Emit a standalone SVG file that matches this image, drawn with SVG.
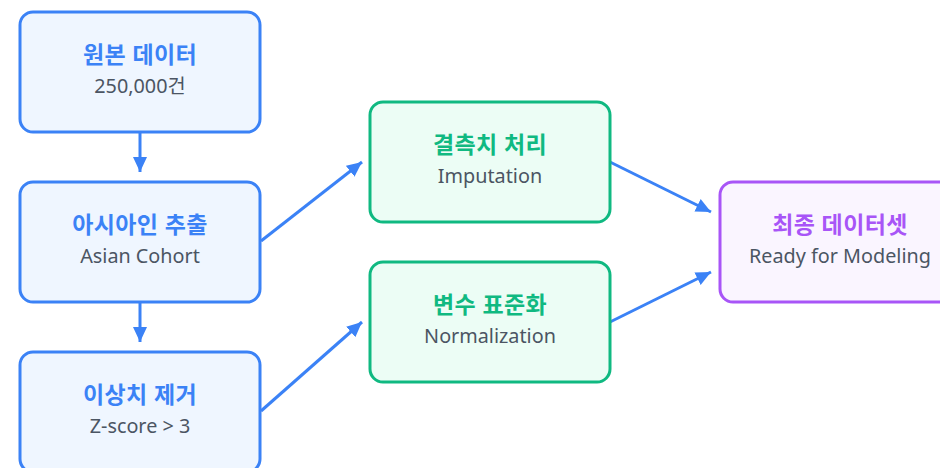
<svg xmlns="http://www.w3.org/2000/svg" width="940" height="468" viewBox="0 0 940 468">
<defs>
<style>
.box{stroke-width:3}
.blue{fill:#eff6ff;stroke:#3b82f6}
.green{fill:#ecfdf5;stroke:#10b981}
.purple{fill:#faf5ff;stroke:#a855f7}
.t{font-family:"Noto Sans","Noto Sans CJK KR",sans-serif;font-size:23px;font-weight:700;text-anchor:middle;letter-spacing:0.4px}
.s{font-family:"Noto Sans","Noto Sans CJK KR",sans-serif;font-size:19.8px;fill:#4b5563;text-anchor:middle}
.tb{fill:#3b82f6}.tg{fill:#10b981}.tp{fill:#a855f7}
.c{stroke:#3b82f6;stroke-width:3;fill:none}
</style>
<marker id="ah" markerUnits="userSpaceOnUse" markerWidth="16" markerHeight="14" refX="15" refY="7" orient="auto">
<path d="M0,0 L15,7 L0,14 z" fill="#3b82f6"/>
</marker>
</defs>
<rect width="940" height="468" fill="#ffffff"/>
<g id="connectors">
<line class="c" x1="140" y1="132" x2="140" y2="172" marker-end="url(#ah)"/>
<line class="c" x1="140" y1="302" x2="140" y2="342" marker-end="url(#ah)"/>
<line class="c" x1="261" y1="241" x2="362" y2="162" marker-end="url(#ah)"/>
<line class="c" x1="261" y1="411" x2="362" y2="322" marker-end="url(#ah)"/>
<line class="c" x1="610" y1="162" x2="711" y2="212" marker-end="url(#ah)"/>
<line class="c" x1="610" y1="322" x2="711" y2="272" marker-end="url(#ah)"/>
</g>
<g id="node-raw">
<rect class="box blue" x="20" y="12" width="240" height="120" rx="13"/>
<text class="t tb" x="140" y="63">원본 데이터</text>
<text class="s" x="140" y="93">250,000건</text>
</g>
<g id="node-asian">
<rect class="box blue" x="20" y="182" width="240" height="120" rx="13"/>
<text class="t tb" x="140" y="233">아시아인 추출</text>
<text class="s" x="140" y="263">Asian Cohort</text>
</g>
<g id="node-outlier">
<rect class="box blue" x="20" y="352" width="240" height="120" rx="13"/>
<text class="t tb" x="140" y="403">이상치 제거</text>
<text class="s" x="140" y="433">Z-score &gt; 3</text>
</g>
<g id="node-impute">
<rect class="box green" x="370" y="102" width="240" height="120" rx="13"/>
<text class="t tg" x="490" y="153">결측치 처리</text>
<text class="s" x="490" y="183">Imputation</text>
</g>
<g id="node-norm">
<rect class="box green" x="370" y="262" width="240" height="120" rx="13"/>
<text class="t tg" x="490" y="313">변수 표준화</text>
<text class="s" x="490" y="343">Normalization</text>
</g>
<g id="node-final">
<rect class="box purple" x="720" y="182" width="240" height="120" rx="13"/>
<text class="t tp" x="840" y="233">최종 데이터셋</text>
<text class="s" x="840" y="263">Ready for Modeling</text>
</g>
</svg>
